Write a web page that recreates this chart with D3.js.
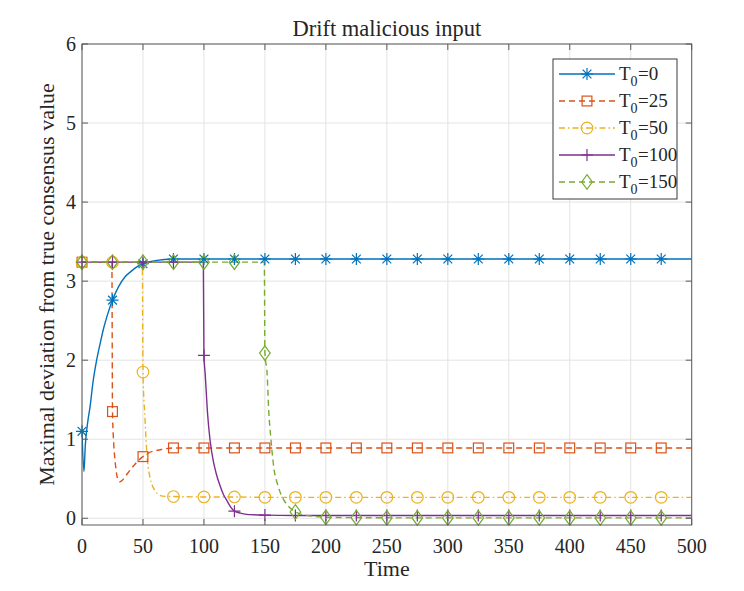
<!DOCTYPE html>
<html>
<head>
<meta charset="utf-8">
<script src="https://cdn.jsdelivr.net/npm/d3@7"></script>
</head>
<body style="margin:0;padding:0;background:#fff;font-family:'Liberation Serif',serif">
<svg id="chart" width="744" height="591" style="display:block;font-family:'Liberation Serif',serif" font-family="Liberation Serif"></svg>
<script>
// ---------- data ----------
const timeTicks  = [0, 50, 100, 150, 200, 250, 300, 350, 400, 450, 500];
const valueTicks = [0, 1, 2, 3, 4, 5, 6];
const markerTimes = [0, 25, 50, 75, 100, 125, 150, 175, 200, 225, 250, 275, 300, 325, 350, 375, 400, 425, 450, 475];
const seriesLabels = ["0", "25", "50", "100", "150"];

const tailTimes = [75, 100, 125, 150, 175, 200, 225, 250, 275, 300, 325, 350, 375, 400, 425, 450, 475, 500];

// T0 = 0
const time_T0_0  = [0, 1.6, 2.7, 4.9, 6.6, 9, 12, 15, 18, 21, 25, 30, 35, 40, 45, 50, 60].concat(tailTimes);
const value_T0_0 = [1.10, 0.59, 0.92, 1.24, 1.41, 1.72, 2.00, 2.22, 2.42, 2.58, 2.76, 2.93, 3.05, 3.12, 3.18, 3.22, 3.26,
                    3.28, 3.28, 3.28, 3.28, 3.28, 3.28, 3.28, 3.28, 3.28, 3.28, 3.28, 3.28, 3.28, 3.28, 3.28, 3.28, 3.28, 3.28];
// T0 = 25
const time_T0_25  = [0, 24.5, 25, 26, 27.3, 28.5, 30, 31, 33, 36, 40, 45, 50, 55, 60, 65].concat(tailTimes);
const value_T0_25 = [3.24, 3.24, 1.35, 0.95, 0.70, 0.55, 0.48, 0.46, 0.48, 0.54, 0.62, 0.71, 0.78, 0.83, 0.855, 0.87,
                     0.89, 0.89, 0.89, 0.89, 0.89, 0.89, 0.89, 0.89, 0.89, 0.89, 0.89, 0.89, 0.89, 0.89, 0.89, 0.89, 0.89, 0.89];
// T0 = 50
const time_T0_50  = [0, 25, 49.5, 50, 51.6, 53, 55.7, 57.5, 59.8, 62, 66].concat(tailTimes);
const value_T0_50 = [3.24, 3.24, 3.24, 1.85, 1.28, 0.86, 0.52, 0.42, 0.35, 0.31, 0.28,
                     0.275, 0.27, 0.27, 0.265, 0.265, 0.265, 0.265, 0.265, 0.265, 0.265, 0.265, 0.265, 0.265, 0.265, 0.265, 0.265, 0.265, 0.265];
// T0 = 100
const time_T0_100  = [0, 25, 50, 75, 99.5, 100, 101, 103, 105, 108, 110, 113, 116, 119, 122, 125, 130, 135, 140, 150, 175, 200, 225, 250, 275, 300, 325, 350, 375, 400, 425, 450, 475, 500];
const value_T0_100 = [3.24, 3.24, 3.24, 3.24, 3.24, 2.06, 1.83, 1.32, 0.99, 0.70, 0.57, 0.42, 0.30, 0.22, 0.14, 0.09, 0.065, 0.05, 0.045, 0.04,
                      0.035, 0.035, 0.035, 0.035, 0.035, 0.035, 0.035, 0.035, 0.035, 0.035, 0.035, 0.035, 0.035, 0.035];
// T0 = 150
const time_T0_150  = [0, 25, 50, 75, 100, 125, 149.5, 150, 151.8, 153, 155, 158, 160, 162, 165.6, 170, 175, 180, 190, 200, 225, 250, 275, 300, 325, 350, 375, 400, 425, 450, 475, 500];
const value_T0_150 = [3.24, 3.24, 3.24, 3.24, 3.24, 3.24, 3.24, 2.09, 1.83, 1.40, 0.99, 0.57, 0.45, 0.35, 0.23, 0.14, 0.08, 0.05, 0.025, 0.012,
                      0.008, 0.006, 0.005, 0.005, 0.005, 0.005, 0.005, 0.005, 0.005, 0.005, 0.005, 0.005];

const seriesTimes  = [time_T0_0, time_T0_25, time_T0_50, time_T0_100, time_T0_150];
const seriesValues = [value_T0_0, value_T0_25, value_T0_50, value_T0_100, value_T0_150];

// ---------- styles ----------
const colors  = ["#0072BD", "#D95319", "#EDB120", "#7E2F8E", "#77AC30"];
const dashes  = [null, "6,4", "6,3,1.5,3", null, "6,4"];
const markers = ["asterisk", "square", "circle", "plus", "diamond"];
const FAM = "Liberation Serif";
const TXT = "#262626";

const svg = d3.select("#chart");
const L = 82, R = 691.7, T = 44, B = 525;

const x = d3.scaleLinear().domain([0, 500]).range([L, R]);
const y = d3.scaleLinear().domain([-0.085, 6]).range([B, T]);

function serif(sel, size) {
  return sel.attr("font-family", FAM).style("font-family", '"Liberation Serif"')
    .attr("font-size", size).style("font-size", size + "px").attr("fill", TXT);
}

// grid
const grid = svg.append("g");
grid.selectAll("line.gx").data(timeTicks).join("line")
  .attr("x1", d => x(d)).attr("x2", d => x(d)).attr("y1", T).attr("y2", B)
  .attr("stroke", "#e3e3e3").attr("stroke-width", 1);
grid.selectAll("line.gy").data(valueTicks).join("line")
  .attr("x1", L).attr("x2", R).attr("y1", d => y(d)).attr("y2", d => y(d))
  .attr("stroke", "#e3e3e3").attr("stroke-width", 1);

// clip
svg.append("clipPath").attr("id", "clip").append("rect")
  .attr("x", L).attr("y", T).attr("width", R - L).attr("height", B - T);

// marker drawing
function drawMarker(g, type, cx, cy, color) {
  const sw = 1.2;
  if (type === "asterisk") {
    const s = 6, d = 4.4;
    const p = `M${cx - s},${cy}L${cx + s},${cy}M${cx},${cy - s}L${cx},${cy + s}` +
              `M${cx - d},${cy - d}L${cx + d},${cy + d}M${cx - d},${cy + d}L${cx + d},${cy - d}`;
    g.append("path").attr("d", p).attr("stroke", color).attr("stroke-width", sw).attr("fill", "none");
  } else if (type === "square") {
    const s = 4.9;
    g.append("rect").attr("x", cx - s).attr("y", cy - s).attr("width", 2 * s).attr("height", 2 * s)
      .attr("stroke", color).attr("stroke-width", sw).attr("fill", "none");
  } else if (type === "circle") {
    g.append("circle").attr("cx", cx).attr("cy", cy).attr("r", 5.8)
      .attr("stroke", color).attr("stroke-width", sw).attr("fill", "none");
  } else if (type === "plus") {
    const s = 6;
    g.append("path").attr("d", `M${cx - s},${cy}L${cx + s},${cy}M${cx},${cy - s}L${cx},${cy + s}`)
      .attr("stroke", color).attr("stroke-width", sw).attr("fill", "none");
  } else if (type === "diamond") {
    const w = 5.3, h = 7.3;
    g.append("path").attr("d", `M${cx},${cy - h}L${cx + w},${cy}L${cx},${cy + h}L${cx - w},${cy}Z`)
      .attr("stroke", color).attr("stroke-width", sw).attr("fill", "none");
  }
}

function valueAt(ts, vs, t) {
  for (let i = 0; i < ts.length; i++) {
    if (ts[i] === t) return vs[i];
    if (ts[i] > t) {
      const f = (t - ts[i - 1]) / (ts[i] - ts[i - 1]);
      return vs[i - 1] + f * (vs[i] - vs[i - 1]);
    }
  }
  return vs[vs.length - 1];
}

const line = d3.line().x(d => x(d[0])).y(d => y(d[1])).curve(d3.curveMonotoneX);
const plot = svg.append("g").attr("clip-path", "url(#clip)");
const markLayer = svg.append("g");

seriesTimes.forEach((ts, i) => {
  const pts = ts.map((t, j) => [t, seriesValues[i][j]]);
  plot.append("path").attr("d", line(pts)).attr("fill", "none")
    .attr("stroke", colors[i]).attr("stroke-width", 1.4)
    .attr("stroke-dasharray", dashes[i]);
  const g = markLayer.append("g");
  markerTimes.forEach(t => {
    drawMarker(g, markers[i], x(t), y(valueAt(ts, seriesValues[i], t)), colors[i]);
  });
});

// axes box and ticks
const axisColor = "#5a5a5a";
svg.append("rect").attr("x", L).attr("y", T).attr("width", R - L).attr("height", B - T)
  .attr("fill", "none").attr("stroke", axisColor).attr("stroke-width", 1);
const tl = 6;
svg.append("g").selectAll("path").data(timeTicks).join("path")
  .attr("d", d => `M${x(d)},${B}V${B - tl}M${x(d)},${T}V${T + tl}`)
  .attr("stroke", axisColor).attr("stroke-width", 1);
svg.append("g").selectAll("path").data(valueTicks).join("path")
  .attr("d", d => `M${L},${y(d)}H${L + tl}M${R},${y(d)}H${R - tl}`)
  .attr("stroke", axisColor).attr("stroke-width", 1);

// tick labels
timeTicks.forEach(d => {
  serif(svg.append("text"), 20).attr("x", x(d)).attr("y", 553).attr("text-anchor", "middle").text(d);
});
valueTicks.forEach(d => {
  serif(svg.append("text"), 20).attr("x", 76).attr("y", y(d) + 7).attr("text-anchor", "end").text(d);
});

// title and axis labels
serif(svg.append("text"), 22.5).attr("x", (L + R) / 2).attr("y", 36).attr("text-anchor", "middle")
  .text("Drift malicious input");
serif(svg.append("text"), 22).attr("x", (L + R) / 2).attr("y", 576).attr("text-anchor", "middle")
  .text("Time");
serif(svg.append("text"), 22).attr("transform", `translate(54,${(T + B) / 2}) rotate(-90)`)
  .attr("text-anchor", "middle").text("Maximal deviation from true consensus value");

// legend
svg.append("rect").attr("x", 553).attr("y", 59).attr("width", 124).attr("height", 140)
  .attr("fill", "#fff").attr("stroke", "#3a3a3a").attr("stroke-width", 1);
const legendY = [74, 101, 128, 155, 182];
seriesLabels.forEach((lab, i) => {
  const ly = legendY[i];
  svg.append("line").attr("x1", 559).attr("x2", 615).attr("y1", ly).attr("y2", ly)
    .attr("stroke", colors[i]).attr("stroke-width", 1.4).attr("stroke-dasharray", dashes[i]);
  drawMarker(svg, markers[i], 587, ly, colors[i]);
  serif(svg.append("text"), 19).attr("x", 619).attr("y", ly + 6).text("T");
  serif(svg.append("text"), 14).attr("x", 630.5).attr("y", ly + 12).text("0");
  serif(svg.append("text"), 19).attr("x", 638).attr("y", ly + 6).text("=" + lab);
});
</script>
</body>
</html>
